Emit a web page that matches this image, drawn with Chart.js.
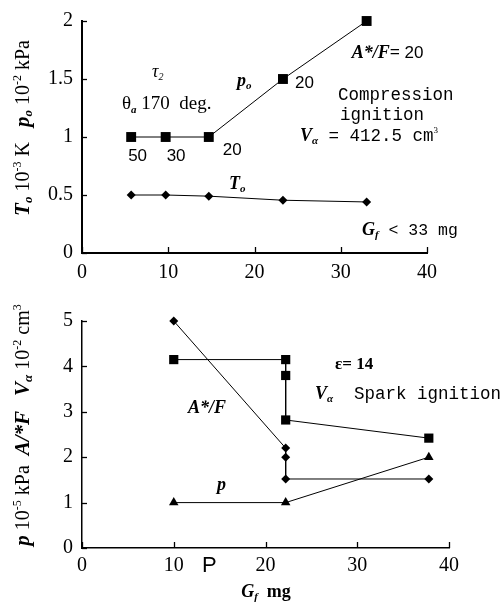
<!DOCTYPE html>
<html><head><meta charset="utf-8">
<script src="https://cdn.jsdelivr.net/npm/chart.js@4.4.1/dist/chart.umd.min.js"></script>
<style>
html,body{margin:0;padding:0;background:#fff;}
#wrap{position:relative;width:502px;height:613px;background:#fff;}
canvas{position:absolute;left:0;}
#c1{top:0;}
#c2{top:300px;}
</style></head>
<body><div id="wrap"><canvas id="c1" width="502" height="300"></canvas><canvas id="c2" width="502" height="313"></canvas></div>
<script>
// ---------- data: top panel (compression ignition) ----------
const topGf = [5.7, 9.7, 14.7, 23.3, 33.0];
const topP0 = [1.0, 1.0, 1.0, 1.5, 2.0];
const topT0 = [0.5, 0.5, 0.49, 0.455, 0.44];
const topP0Labels = ['50', '30', '20', '20', '20'];
const topXTicks = [0, 10, 20, 30, 40];
const topYTicks = [0, 0.5, 1, 1.5, 2];
const topYTickLabels = ['0', '0.5', '1', '1.5', '2'];
// ---------- data: bottom panel (spark ignition) ----------
const botAfGf = [10, 22.2, 22.2, 22.2, 37.8];
const botAf = [5.0, 2.2, 2.0, 1.52, 1.52];
const botVaGf = [10, 22.2, 22.2, 22.2, 37.8];
const botVa = [4.15, 4.15, 3.8, 2.82, 2.42];
const botPGf = [10, 22.2, 37.8];
const botP = [1.0, 1.0, 2.0];
const botXTicks = [0, 10, 20, 30, 40];
const botYTicks = [0, 1, 2, 3, 4, 5];

const SERIF = '"Liberation Serif", "DejaVu Serif", serif';
const SANS = '"Liberation Sans", Arial, sans-serif';
const MONO = '"Liberation Mono", "DejaVu Sans Mono", monospace';

function pts(xs, ys){ return xs.map((x,i)=>({x:x, y:ys[i]})); }

function richWidth(ctx, segs){
  let w=0; for(const s of segs){ ctx.font=s[1]; w+=ctx.measureText(s[0]).width; } return w;
}
function drawRich(ctx, x, y, segs, align){
  const w = richWidth(ctx, segs);
  let cx = align==='center' ? x - w/2 : (align==='right' ? x - w : x);
  ctx.textAlign='left'; ctx.textBaseline='alphabetic'; ctx.fillStyle='#000';
  for(const s of segs){ ctx.font=s[1]; ctx.fillText(s[0], cx, y + (s[2]||0)); cx += ctx.measureText(s[0]).width; }
}
function drawRotRich(ctx, x, y, segs){
  ctx.save(); ctx.translate(x,y); ctx.rotate(-Math.PI/2); drawRich(ctx, 0, 0, segs, 'center'); ctx.restore();
}

const IT = 'italic bold 18px '+SERIF;
const ITS = 'italic bold 11px '+SERIF;
const TIT = 'italic bold 21px '+SERIF;
const TITS = 'italic bold 13px '+SERIF;
const TSR = '20px '+SERIF;
const TSUP = '12px '+SERIF;

const inwardTicks = {
  id:'inwardTicks',
  afterDraw(chart){
    const ctx=chart.ctx, a=chart.chartArea, xs=chart.scales.x, ys=chart.scales.y;
    ctx.save(); ctx.strokeStyle='#000'; ctx.lineWidth=1.3;
    const xt = chart.options.plugins.inwardTicks.x, yt = chart.options.plugins.inwardTicks.y;
    for(const v of xt){ const px=Math.round(xs.getPixelForValue(v))+0.5; ctx.beginPath(); ctx.moveTo(px,a.bottom); ctx.lineTo(px,a.bottom-6); ctx.stroke(); }
    for(const v of yt){ const py=Math.round(ys.getPixelForValue(v))+0.5; ctx.beginPath(); ctx.moveTo(a.left,py); ctx.lineTo(a.left+5,py); ctx.stroke(); }
    ctx.restore();
  }
};

function axes(xmin,xmax,xstep,ymin,ymax,ystep,yWidth,xHeight,bw,xpad,yLabels,yTicks){
  return {
    x:{type:'linear',min:xmin,max:xmax,
       ticks:{stepSize:xstep,color:'#000',font:{family:SERIF,size:20},padding:xpad,maxRotation:0},
       grid:{display:false,drawTicks:false},border:{display:true,color:'#000',width:bw},
       afterFit(s){ s.height = xHeight; }},
    y:{type:'linear',min:ymin,max:ymax,
       ticks:{stepSize:ystep,color:'#000',font:{family:SERIF,size:20},padding:9,
              callback:(v)=>{ const i=yTicks.indexOf(v); return i>=0 ? yLabels[i] : ''; }},
       grid:{display:false,drawTicks:false},border:{display:true,color:'#000',width:bw},
       afterFit(s){ s.width = yWidth; }}
  };
}

// ---------- top chart ----------
const topAnno = {
  id:'topAnno',
  afterDraw(chart){
    const ctx=chart.ctx, xs=chart.scales.x, ys=chart.scales.y;
    const px = i => xs.getPixelForValue(topGf[i]), py = i => ys.getPixelForValue(topP0[i]);
    const L = '17px '+SANS;
    drawRich(ctx, px(0)-3, py(0)+24, [[topP0Labels[0], L]], 'left');
    drawRich(ctx, px(1)+1, py(1)+24, [[topP0Labels[1], L]], 'left');
    drawRich(ctx, px(2)+14, py(2)+18, [[topP0Labels[2], L]], 'left');
    drawRich(ctx, px(3)+12, py(3)+9, [[topP0Labels[3], L]], 'left');
    drawRich(ctx, px(4)-15, py(4)+37, [['A*/F', IT], ['=', 'bold 18px '+SERIF], [' '+topP0Labels[4], L]], 'left');
    drawRich(ctx, 152, 77, [['τ', 'italic 18px '+SERIF], ['2', 'italic 10px '+SERIF, 3]], 'left');
    drawRich(ctx, 122, 109, [['θ', '19px '+SERIF], ['a', ITS, 4], [' 170  deg.', '19px '+SERIF]], 'left');
    drawRich(ctx, 237, 86, [['p', IT], ['o', ITS, 3]], 'left');
    drawRich(ctx, 229, 189, [['T', IT], ['o', ITS, 3]], 'left');
    const M = '17.5px '+MONO;
    drawRich(ctx, 338, 100, [['Compression', M]], 'left');
    drawRich(ctx, 340, 120, [['ignition', M]], 'left');
    drawRich(ctx, 300, 141, [['V', IT], ['α', ITS, 3], [' = 412.5 cm', M], ['3', '9px '+SERIF, -8]], 'left');
    drawRich(ctx, 362, 235, [['G', IT], ['f', ITS, 3], [' < 33 mg', '16.5px '+MONO]], 'left');
    drawRotRich(ctx, 29, 128, [['T', TIT], ['o', TITS, 3], [' 10', TSR], ['-3', TSUP, -8], [' K   ', TSR],
      ['p', TIT], ['o', TITS, 3], [' 10', TSR], ['-2', TSUP, -8], [' kPa', TSR]]);
  }
};

new Chart(document.getElementById('c1'), {
  type:'line',
  data:{datasets:[
    {label:'p0', data:pts(topGf, topP0), borderColor:'#000', borderWidth:1, backgroundColor:'#000',
     pointStyle:'rect', pointRadius:7, pointBorderWidth:0, fill:false, tension:0, clip:false},
    {label:'T0', data:pts(topGf, topT0), borderColor:'#000', borderWidth:1, backgroundColor:'#000',
     pointStyle:'rectRot', pointRadius:4.5, pointBorderWidth:0, fill:false, tension:0, clip:false}
  ]},
  options:{responsive:false, animation:false, devicePixelRatio:1,
    layout:{padding:{left:0,right:75,top:18,bottom:0}},
    plugins:{legend:{display:false}, tooltip:{enabled:false}, inwardTicks:{x:topXTicks, y:topYTicks}},
    scales:axes(0,40,10,0,2,0.5,82,47,2,8,topYTickLabels,topYTicks)
  },
  plugins:[inwardTicks, topAnno]
});

// ---------- bottom chart ----------
const botAnno = {
  id:'botAnno',
  afterDraw(chart){
    const ctx=chart.ctx;
    drawRich(ctx, 188, 113, [['A*/F', IT]], 'left');
    drawRich(ctx, 217, 190, [['p', IT]], 'left');
    drawRich(ctx, 335, 69, [['ε= 14', 'bold 17px '+SERIF]], 'left');
    drawRich(ctx, 315, 99, [['V', IT], ['α', ITS, 3], ['  Spark ignition', '17.5px '+MONO]], 'left');
    drawRich(ctx, 202, 272, [['P', '22px '+SANS]], 'left');
    drawRich(ctx, 266, 297, [['G', IT], ['f', ITS, 3], ['  mg', 'bold 18px '+SERIF]], 'center');
    drawRotRich(ctx, 29, 125, [['p', TIT], [' 10', TSR], ['-5', TSUP, -8], [' kPa  ', TSR],
      ['A/*F', TIT], ['   ', TSR], ['V', TIT], ['α', TITS, 3], [' 10', TSR], ['-2', TSUP, -8], [' cm', TSR], ['3', TSUP, -8]]);
  }
};

new Chart(document.getElementById('c2'), {
  type:'line',
  data:{datasets:[
    {label:'A*/F', data:pts(botAfGf, botAf), borderColor:'#000', borderWidth:1, backgroundColor:'#000',
     pointStyle:'rectRot', pointRadius:4.5, pointBorderWidth:0, fill:false, tension:0, clip:false},
    {label:'Va', data:pts(botVaGf, botVa), borderColor:'#000', borderWidth:1, backgroundColor:'#000',
     pointStyle:'rect', pointRadius:6.5, pointBorderWidth:0, fill:false, tension:0, clip:false},
    {label:'p', data:pts(botPGf, botP), borderColor:'#000', borderWidth:1, backgroundColor:'#000',
     pointStyle:'triangle', pointRadius:5.5, pointBorderWidth:0, fill:false, tension:0, clip:false}
  ]},
  options:{responsive:false, animation:false, devicePixelRatio:1,
    layout:{padding:{left:0,right:53,top:12,bottom:0}},
    plugins:{legend:{display:false}, tooltip:{enabled:false}, inwardTicks:{x:botXTicks, y:botYTicks}},
    scales:axes(0,40,10,0,5,1,82,65,1.5,6,['0','1','2','3','4','5'],botYTicks)
  },
  plugins:[inwardTicks, botAnno]
});
</script>
</body></html>
